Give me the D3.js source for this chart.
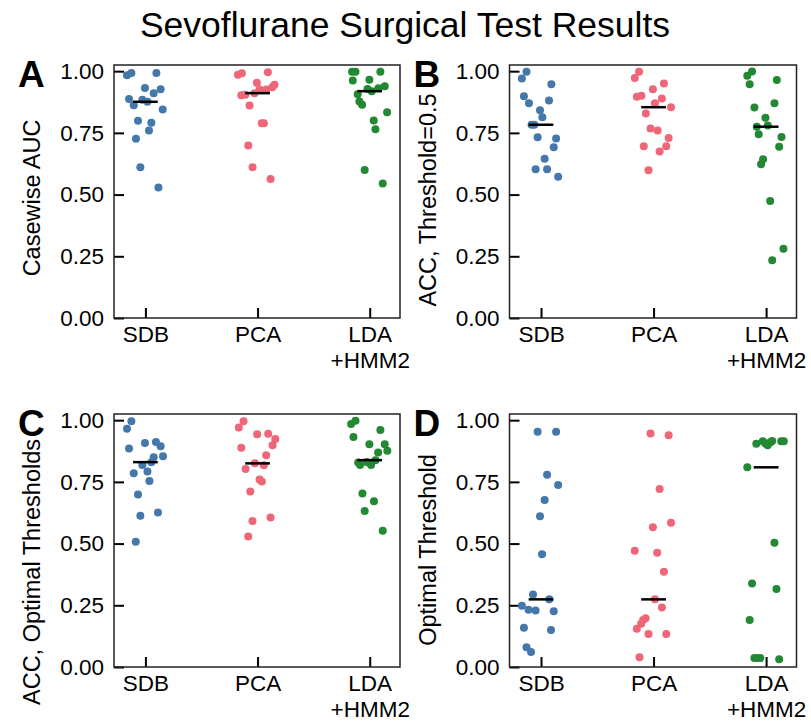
<!DOCTYPE html>
<html>
<head>
<meta charset="utf-8">
<script src="https://cdn.jsdelivr.net/npm/d3@7"></script>
<style>
  html, body { margin: 0; padding: 0; background: #fff; }
  svg { display: block; }
</style>
</head>
<body>
<svg id="chart" width="811" height="721"></svg>
<script>
// ---------------- DATA ----------------
const title = "Sevoflurane Surgical Test Results";
const categories = ["SDB", "PCA", "LDA\n+HMM2"];
const yTickValues = [0, 0.25, 0.5, 0.75, 1.0];
const panelLetters = ["A", "B", "C", "D"];
const yLabels = ["Casewise AUC", "ACC, Threshold=0.5", "ACC, Optimal Thresholds", "Optimal Threshold"];
const groupColors = ["#4477AA", "#EE6677", "#228833"];

// Panel A: Casewise AUC
const aucSDB = [0.983,0.993,0.993,0.932,0.927,0.911,0.887,0.884,0.876,0.862,0.845,0.799,0.791,0.760,0.726,0.611,0.529];
const aucSDBJitter = [-0.164,-0.125,0.098,-0.004,0.136,0.074,-0.146,-0.027,0.018,-0.104,0.154,-0.066,0.053,0.032,-0.084,-0.045,0.116];
const aucPCA = [0.985,0.992,0.996,0.953,0.945,0.935,0.926,0.926,0.911,0.902,0.904,0.861,0.789,0.789,0.699,0.611,0.563];
const aucPCAJitter = [-0.175,-0.140,0.092,-0.006,0.151,0.131,0.077,0.018,-0.027,-0.145,-0.110,-0.071,0.038,0.056,-0.083,-0.045,0.116];
const aucLDA = [0.998,0.998,0.998,0.962,0.965,0.939,0.931,0.928,0.919,0.906,0.877,0.864,0.834,0.800,0.765,0.600,0.545];
const aucLDAJitter = [-0.157,-0.127,0.095,-0.151,-0.003,0.134,0.077,-0.020,0.018,-0.107,-0.092,-0.068,0.155,0.036,0.051,-0.045,0.116];

// Panel B: ACC, Threshold=0.5
const acc05SDB = [0.998,0.970,0.947,0.898,0.870,0.881,0.842,0.813,0.783,0.783,0.732,0.727,0.692,0.645,0.603,0.603,0.572];
const acc05SDBJitter = [-0.129,-0.170,0.092,-0.152,-0.107,0.071,-0.009,0.012,-0.084,-0.060,-0.030,0.134,0.113,0.032,-0.048,0.054,0.152];
const acc05PCA = [0.998,0.972,0.950,0.927,0.896,0.900,0.889,0.870,0.854,0.829,0.768,0.760,0.729,0.696,0.696,0.675,0.599];
const acc05PCAJitter = [-0.129,-0.167,0.092,-0.006,-0.149,-0.108,0.074,0.012,0.155,-0.069,-0.027,0.036,0.134,-0.087,0.113,0.054,-0.045];
const acc05LDA = [0.999,0.981,0.947,0.964,0.853,0.870,0.811,0.775,0.780,0.744,0.733,0.694,0.643,0.623,0.474,0.281,0.234];
const acc05LDAJitter = [-0.125,-0.167,-0.146,0.095,-0.104,0.074,-0.006,-0.083,0.015,-0.066,0.137,0.116,-0.027,-0.045,0.036,0.154,0.054];

// Panel C: ACC, Optimal Thresholds
const accOptSDB = [0.996,0.965,0.885,0.908,0.912,0.894,0.854,0.850,0.830,0.818,0.792,0.785,0.754,0.699,0.626,0.613,0.507];
const accOptSDBJitter = [-0.125,-0.164,-0.146,-0.004,0.094,0.136,0.157,0.074,0.053,-0.027,0.018,-0.104,0.036,-0.066,0.112,-0.045,-0.086];
const accOptPCA = [0.996,0.970,0.943,0.945,0.924,0.898,0.888,0.858,0.825,0.817,0.802,0.760,0.752,0.711,0.591,0.606,0.529];
const accOptPCAJitter = [-0.125,-0.167,-0.003,0.095,0.158,0.134,-0.145,0.077,-0.024,0.056,-0.107,0.018,0.038,-0.065,-0.045,0.116,-0.083];
const accOptLDA = [0.998,0.984,0.960,0.932,0.902,0.902,0.876,0.869,0.838,0.829,0.818,0.831,0.818,0.703,0.672,0.632,0.552];
const accOptLDAJitter = [-0.127,-0.166,0.095,-0.145,-0.003,0.134,0.157,0.075,0.051,-0.103,-0.086,-0.027,0.012,-0.065,0.038,-0.045,0.116];

// Panel D: Optimal Threshold
const thrSDB = [0.953,0.953,0.779,0.737,0.677,0.611,0.457,0.294,0.274,0.248,0.232,0.229,0.226,0.159,0.150,0.080,0.061];
const thrSDBJitter = [-0.030,0.134,0.054,0.152,0.032,-0.009,0.009,-0.071,0.074,-0.170,-0.111,-0.048,0.113,-0.152,0.089,-0.129,-0.089];
const thrPCA = [0.946,0.939,0.721,0.584,0.566,0.471,0.463,0.386,0.274,0.241,0.197,0.190,0.175,0.155,0.134,0.134,0.040];
const thrPCAJitter = [-0.027,0.134,0.054,0.155,-0.006,-0.167,0.032,0.092,0.012,0.074,-0.071,-0.093,-0.110,-0.149,-0.045,0.113,-0.125];
const thrLDA = [0.904,0.915,0.905,0.898,0.911,0.916,0.915,0.915,0.809,0.503,0.338,0.316,0.190,0.036,0.036,0.036,0.031];
const thrLDAJitter = [-0.087,-0.030,-0.006,0.014,0.038,0.054,0.134,0.157,-0.167,0.074,-0.125,0.092,-0.146,-0.104,-0.080,-0.051,0.116];

// ---------------- LAYOUT ----------------
const W = 811, H = 721;
const FONT = "'Liberation Sans', Arial, Helvetica, sans-serif";
const panels = [
  { box: [114, 400, 65, 318],   labelCy: 198, series: [[aucSDB, aucSDBJitter], [aucPCA, aucPCAJitter], [aucLDA, aucLDAJitter]] },
  { box: [509.5, 796.5, 65, 318], labelCy: 200, series: [[acc05SDB, acc05SDBJitter], [acc05PCA, acc05PCAJitter], [acc05LDA, acc05LDAJitter]] },
  { box: [114, 400, 414, 667],  labelCy: 572, series: [[accOptSDB, accOptSDBJitter], [accOptPCA, accOptPCAJitter], [accOptLDA, accOptLDAJitter]] },
  { box: [509.5, 796.5, 414, 667], labelCy: 550, series: [[thrSDB, thrSDBJitter], [thrPCA, thrPCAJitter], [thrLDA, thrLDAJitter]] }
];

const svg = d3.select("#chart");
svg.append("rect").attr("width", W).attr("height", H).attr("fill", "#fff");

svg.append("text")
  .attr("x", 405).attr("y", 37)
  .attr("text-anchor", "middle")
  .attr("font-family", FONT).attr("font-size", 35.5)
  .attr("fill", "#000")
  .text(title);

panels.forEach((p, i) => {
  const [x0, x1, y0, y1] = p.box;
  const x = d3.scaleLinear().domain([-0.28, 2.27]).range([x0, x1]);
  const y = d3.scaleLinear().domain([0, 1.025]).range([y1, y0]);
  const g = svg.append("g");

  // y axis (ticks inward)
  const yAxis = d3.axisLeft(y).tickValues(yTickValues).tickFormat(d3.format(".2f"))
    .tickSizeInner(-10).tickSizeOuter(0).tickPadding(10);
  const ya = g.append("g").attr("transform", `translate(${x0},0)`).call(yAxis);
  ya.select(".domain").remove();
  ya.selectAll("line").attr("stroke", "#000").attr("stroke-width", 2);
  ya.selectAll("text").attr("font-family", FONT).attr("font-size", 22.5).attr("fill", "#000");

  // x axis
  const xAxis = d3.axisBottom(x).tickValues([0, 1, 2]).tickFormat((d) => categories[d])
    .tickSizeInner(-10).tickSizeOuter(0).tickPadding(8);
  const xa = g.append("g").attr("transform", `translate(0,${y1})`).call(xAxis);
  xa.select(".domain").remove();
  xa.selectAll("line").attr("stroke", "#000").attr("stroke-width", 2);
  xa.selectAll("text").each(function(d) {
    const t = d3.select(this);
    const lines = categories[d].split("\n");
    t.text(null).attr("dy", null).attr("y", 0)
      .attr("font-family", FONT).attr("font-size", 22.5).attr("fill", "#000");
    lines.forEach((ln, k) => {
      t.append("tspan").attr("x", 0).attr("y", 24 + k * 26).text(ln);
    });
  });

  // frame
  g.append("rect").attr("x", x0).attr("y", y0).attr("width", x1 - x0).attr("height", y1 - y0)
    .attr("fill", "none").attr("stroke", "#222").attr("stroke-width", 1.5);

  // points
  p.series.forEach(([vals, jit], gi) => {
    g.append("g").selectAll("circle").data(vals).join("circle")
      .attr("cx", (v, k) => x(gi + jit[k]))
      .attr("cy", (v) => y(v))
      .attr("r", 4)
      .attr("fill", groupColors[gi]);
    const med = d3.median(vals);
    g.append("line")
      .attr("x1", x(gi - 0.11)).attr("x2", x(gi + 0.11))
      .attr("y1", y(med)).attr("y2", y(med))
      .attr("stroke", "#000").attr("stroke-width", 2.5);
  });

  // y label
  const lx = x0 - 82;
  g.append("text")
    .attr("transform", `translate(${lx},${p.labelCy}) rotate(-90)`)
    .attr("text-anchor", "middle").attr("dominant-baseline", "central")
    .attr("font-family", FONT).attr("font-size", 23.5).attr("fill", "#000")
    .text(yLabels[i]);

  // panel letter
  g.append("text")
    .attr("x", x0 - 96).attr("y", y0 + 22)
    .attr("font-family", FONT).attr("font-size", 37).attr("font-weight", "bold").attr("fill", "#000")
    .text(panelLetters[i]);
});
</script>
</body>
</html>
